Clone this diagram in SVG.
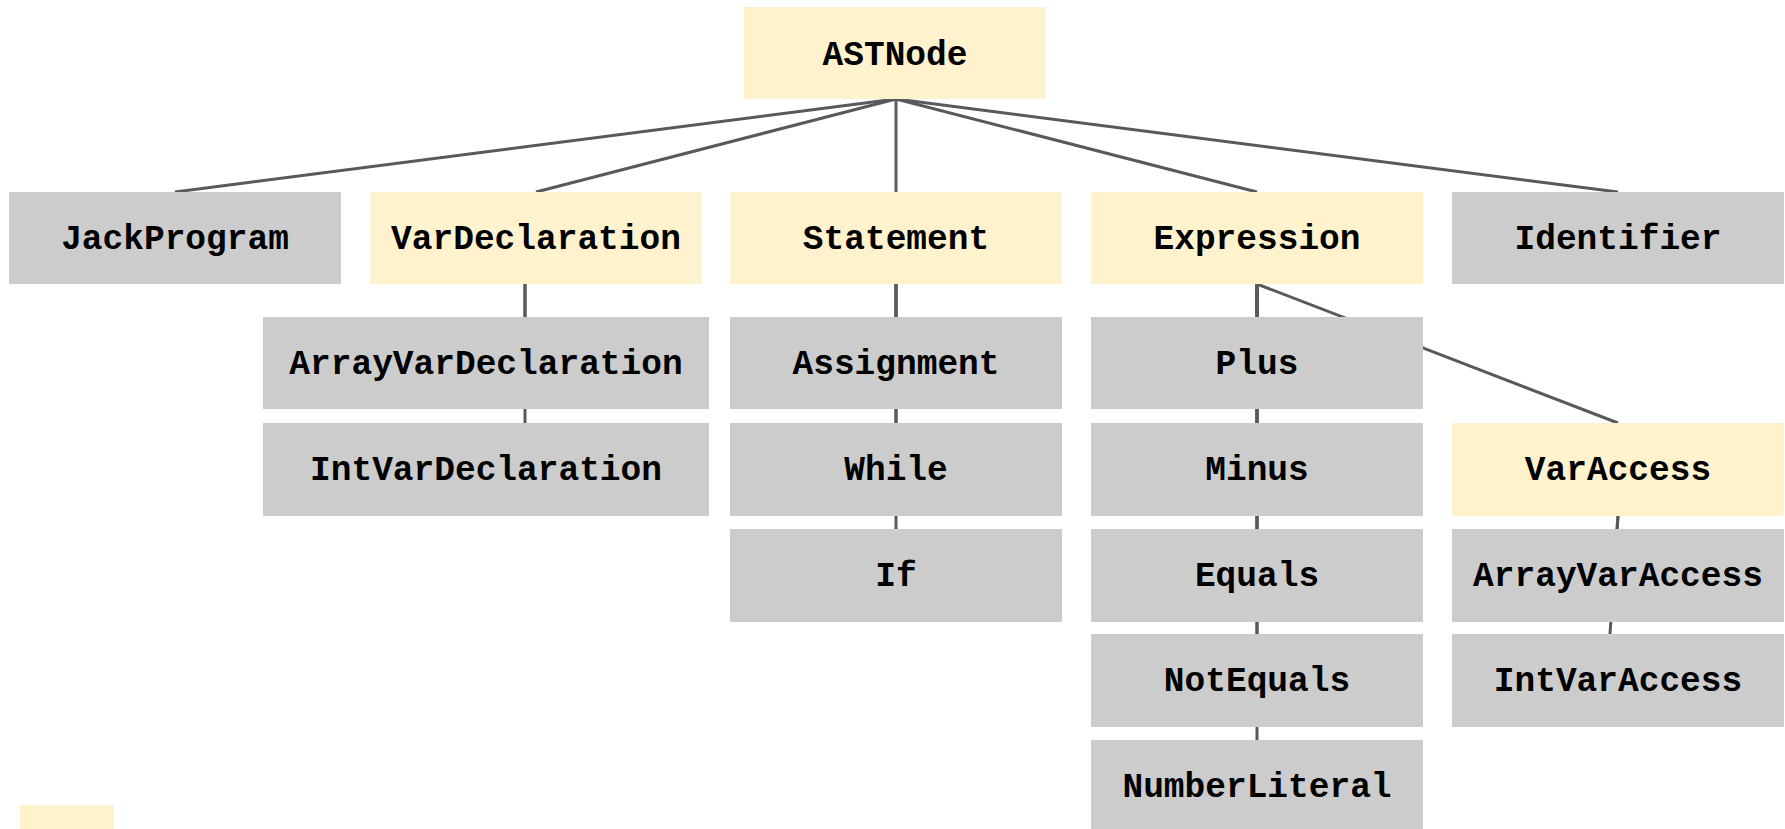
<svg xmlns="http://www.w3.org/2000/svg" width="1785" height="829" viewBox="0 0 1785 829">
<style>
.y{fill:#FFF2CC}
.g{fill:#CCCCCC}
text{font-family:"Liberation Mono","Courier New",monospace;font-weight:bold;font-size:34.5px;fill:#000;text-anchor:middle}
.c line{stroke:#595959;stroke-width:3;fill:none}
</style>
<rect width="1785" height="829" fill="#FFFFFF"/>
<g class="c" id="connectors">
<line x1="896" y1="99" x2="175" y2="192"/>
<line x1="896" y1="99" x2="536" y2="192"/>
<line x1="896" y1="99" x2="896" y2="192"/>
<line x1="896" y1="99" x2="1257" y2="192"/>
<line x1="896" y1="99" x2="1618" y2="192"/>
<line x1="525" y1="284" x2="525" y2="317"/>
<line x1="525" y1="284" x2="525" y2="423"/>
<line x1="896" y1="284" x2="896" y2="317"/>
<line x1="896" y1="284" x2="896" y2="423"/>
<line x1="896" y1="284" x2="896" y2="529"/>
<line x1="1257" y1="284" x2="1257" y2="317"/>
<line x1="1257" y1="284" x2="1257" y2="423"/>
<line x1="1257" y1="284" x2="1257" y2="529"/>
<line x1="1257" y1="284" x2="1257" y2="634"/>
<line x1="1257" y1="284" x2="1257" y2="740"/>
<line x1="1257" y1="284" x2="1618" y2="423"/>
<line x1="1618" y1="516" x2="1617" y2="529"/>
<line x1="1618" y1="516" x2="1610" y2="634"/>
</g>
<g id="ASTNode"><rect class="y" x="744" y="7" width="302" height="92"/><text x="895" y="65">ASTNode</text></g>
<g id="JackProgram"><rect class="g" x="9" y="192" width="332" height="92"/><text x="175" y="249">JackProgram</text></g>
<g id="VarDeclaration"><rect class="y" x="370" y="192" width="332" height="92"/><text x="536" y="249">VarDeclaration</text></g>
<g id="Statement"><rect class="y" x="730" y="192" width="332" height="92"/><text x="896" y="249">Statement</text></g>
<g id="Expression"><rect class="y" x="1091" y="192" width="332" height="92"/><text x="1257" y="249">Expression</text></g>
<g id="Identifier"><rect class="g" x="1452" y="192" width="332" height="92"/><text x="1618" y="249">Identifier</text></g>
<g id="ArrayVarDeclaration"><rect class="g" x="263" y="317" width="446" height="92"/><text x="486" y="374">ArrayVarDeclaration</text></g>
<g id="IntVarDeclaration"><rect class="g" x="263" y="423" width="446" height="93"/><text x="486" y="480">IntVarDeclaration</text></g>
<g id="Assignment"><rect class="g" x="730" y="317" width="332" height="92"/><text x="896" y="374">Assignment</text></g>
<g id="While"><rect class="g" x="730" y="423" width="332" height="93"/><text x="896" y="480">While</text></g>
<g id="If"><rect class="g" x="730" y="529" width="332" height="93"/><text x="896" y="586">If</text></g>
<g id="Plus"><rect class="g" x="1091" y="317" width="332" height="92"/><text x="1257" y="374">Plus</text></g>
<g id="Minus"><rect class="g" x="1091" y="423" width="332" height="93"/><text x="1257" y="480">Minus</text></g>
<g id="Equals"><rect class="g" x="1091" y="529" width="332" height="93"/><text x="1257" y="586">Equals</text></g>
<g id="NotEquals"><rect class="g" x="1091" y="634" width="332" height="93"/><text x="1257" y="691">NotEquals</text></g>
<g id="NumberLiteral"><rect class="g" x="1091" y="740" width="332" height="93"/><text x="1257" y="797">NumberLiteral</text></g>
<g id="VarAccess"><rect class="y" x="1452" y="423" width="332" height="93"/><text x="1618" y="480">VarAccess</text></g>
<g id="ArrayVarAccess"><rect class="g" x="1452" y="529" width="332" height="93"/><text x="1618" y="586">ArrayVarAccess</text></g>
<g id="IntVarAccess"><rect class="g" x="1452" y="634" width="332" height="93"/><text x="1618" y="691">IntVarAccess</text></g>
<g id="legend"><rect class="y" x="20" y="805" width="94" height="30"/></g>
</svg>
